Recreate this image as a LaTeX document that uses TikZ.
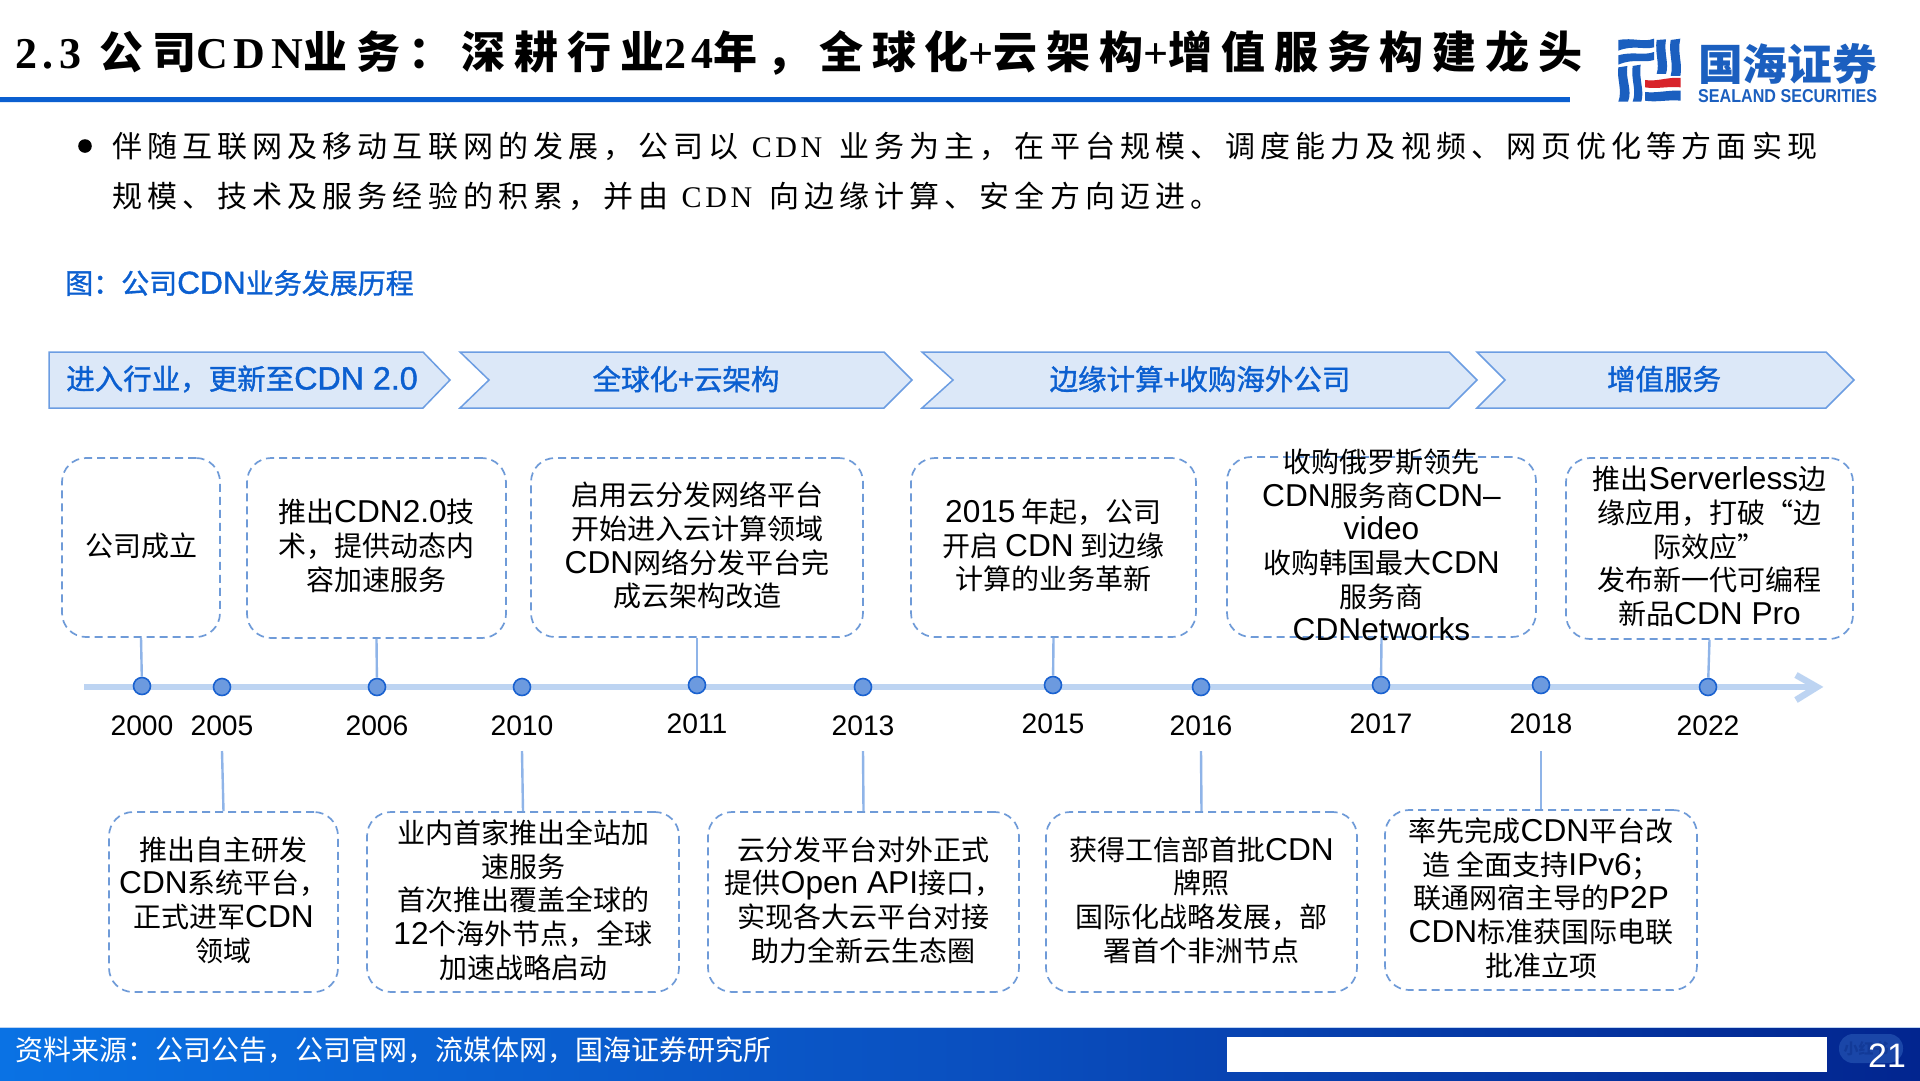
\documentclass[tikz,border=0pt]{standalone}
\usepackage{fontspec}
\usepackage{graphicx}
\setmainfont{Noto Sans CJK SC}
\newfontfamily\latf{Liberation Sans}[Scale=1.13]
\newfontfamily\latb{Liberation Sans}[Scale=1.13,FakeBold=1.2]
\newfontfamily\logol{Liberation Sans}
\newfontfamily\cjb{Noto Sans CJK SC}[FakeBold=1.2]
\newfontfamily\tcj{Noto Sans CJK SC}[LetterSpace=20]
\newfontfamily\tlat{Liberation Serif}[LetterSpace=13]
\newfontfamily\bcj{Noto Sans CJK SC}[LetterSpace=17]
\newfontfamily\blat{Liberation Serif}[LetterSpace=12]
\newcommand{\la}[1]{{\latf #1}}
\newcommand{\lb}[1]{{\latb #1}}
\definecolor{cblue}{HTML}{0B5FD0}
\definecolor{chevf}{HTML}{DCE8F8}
\definecolor{chevd}{HTML}{6C9DE2}
\definecolor{dashc}{HTML}{6F9BD8}
\definecolor{linec}{HTML}{8FB4E8}
\definecolor{axisc}{HTML}{BDD4F2}
\definecolor{dotf}{HTML}{6C9ADF}
\definecolor{dotd}{HTML}{1A62D0}
\definecolor{logob}{HTML}{1B5FBF}
\definecolor{logor}{HTML}{D8232A}
\definecolor{footl}{HTML}{0A72E4}
\definecolor{footm}{HTML}{0A50C0}
\definecolor{footr}{HTML}{02258F}
\definecolor{pillc}{HTML}{1A46A8}
\definecolor{wmc}{HTML}{123A98}
\tikzset{
  chev/.style={fill=chevf,draw=chevd,line width=1.5pt},
  chevlab/.style={font=\fontsize{28.5}{34}\selectfont\cjb,text=cblue,inner sep=0pt},
  dbox/.style={draw=dashc,line width=1.7pt,dash pattern=on 8pt off 5pt,rounded corners=24pt,inner sep=0pt},
  boxtxt/.style={font=\fontsize{28}{33.7}\selectfont,align=center,inner sep=0pt,text=black},
  yr/.style={font=\fontsize{25}{33}\selectfont\latf,inner sep=0pt,text=black},
  dot/.style={circle,fill=dotf,draw=dotd,line width=1.6pt,minimum size=17pt,inner sep=0pt},
  conn/.style={draw=linec,line width=2.4pt},
}
% \tbox{name}{x1}{y1}{x2}{y2}{text}
\newcommand{\tbox}[6]{%
  \pgfmathsetmacro{\bcx}{(#2+#4)/2}\pgfmathsetmacro{\bcy}{(#3+#5)/2}%
  \pgfmathsetmacro{\bwd}{#4-#2}\pgfmathsetmacro{\bht}{#5-#3}%
  \node[dbox,minimum width=\bwd pt,minimum height=\bht pt] (#1) at (\bcx,\bcy) {};
  \node[boxtxt] (#1t) at (\bcx,\bcy-2) {#6};
}
\begin{document}
\begin{tikzpicture}[x=1pt,y=-1pt]
\useasboundingbox (0,0) rectangle (1920,1080);
\fill[white] (0,0) rectangle (1920,1080);
% title
\node[anchor=west,inner sep=0pt,font=\fontsize{44}{50}\selectfont\bfseries] (title) at (15,53)
 {{\tlat 2.3}\hspace{18pt}{\tcj 公司}{\tlat CDN}{\tcj 业务：深耕行业}{\tlat 24}{\tcj 年，全球化}{\tlat +}{\tcj 云架构}{\tlat +}{\tcj 增值服务构建龙头}};
\fill[cblue] (0,97) rectangle (1570,102);
\fill[axisc!50] (0,102) rectangle (1570,103);
% logo
\begin{scope}[shift={(1500,0)},x=0.3333pt,y=-0.3333pt]
\fill[logob] (355,120) .. controls (400,112) and (430,128) .. (462,116) -- (462,142) .. controls (430,150) and (400,134) .. (355,152) -- cycle;
\fill[logob] (355,166) .. controls (400,153) and (430,168) .. (462,156) -- (462,180) .. controls (430,190) and (400,174) .. (355,194) -- cycle;
\fill[logob] (355,202) -- (382,198) .. controls (376,240) and (398,270) .. (384,305) -- (355,305) .. controls (368,270) and (350,240) .. (355,202) -- cycle;
\fill[logob] (398,198) -- (422,194) .. controls (416,240) and (434,270) .. (424,305) -- (398,305) .. controls (411,270) and (392,240) .. (398,198) -- cycle;
\fill[logob] (470,120) -- (498,118) .. controls (491,160) and (508,190) .. (498,222) -- (470,222) .. controls (480,190) and (464,160) .. (470,120) -- cycle;
\fill[logob] (512,120) -- (541,116) .. controls (531,160) and (549,190) .. (541,228) -- (512,228) .. controls (522,190) and (505,160) .. (512,120) -- cycle;
\fill[logor] (435,240) .. controls (470,246) and (505,230) .. (542,234) -- (542,262) .. controls (505,258) and (470,268) .. (435,262) -- cycle;
\fill[logob] (435,276) .. controls (470,280) and (505,270) .. (542,272) -- (542,302) .. controls (505,298) and (470,308) .. (435,302) -- cycle;
\end{scope}
\node[anchor=west,inner sep=0pt,text=logob,font=\fontsize{41}{48}\selectfont\bfseries] (logocn) at (1698,64)
 {\resizebox{179pt}{37pt}{国海证券}};
\node[anchor=west,inner sep=0pt,text=logob] (logoen) at (1698,96)
 {\resizebox{179pt}{13pt}{\bfseries\logol SEALAND SECURITIES}};
% body
\fill[black] (85,146) circle (6.8pt);
\node[anchor=west,inner sep=0pt,font=\fontsize{30}{34}\selectfont] (body1) at (112,146)
 {{\bcj 伴随互联网及移动互联网的发展，公司以}\hspace{13pt}{\blat CDN}\hspace{17pt}{\bcj 业务为主，在平台规模、调度能力及视频、网页优化等方面实现}};
\node[anchor=west,inner sep=0pt,font=\fontsize{30}{34}\selectfont] (body2) at (112,196)
 {{\bcj 规模、技术及服务经验的积累，并由}\hspace{13pt}{\blat CDN}\hspace{17pt}{\bcj 向边缘计算、安全方向迈进。}};
\node[anchor=west,inner sep=0pt,text=cblue,font=\fontsize{28}{34}\selectfont\cjb] (fig) at (65,283)
 {图：公司\lb{CDN}业务发展历程};
% chevrons
\draw[chev] (49,352) -- (423,352) -- (450,380) -- (423,408) -- (49,408) -- cycle;
\draw[chev] (460,352) -- (884,352) -- (912,380) -- (884,408) -- (460,408) -- (489,380) -- cycle;
\draw[chev] (922,352) -- (1449,352) -- (1477,380) -- (1449,408) -- (922,408) -- (953,380) -- cycle;
\draw[chev] (1477,352) -- (1826,352) -- (1854,380) -- (1826,408) -- (1477,408) -- (1505,380) -- cycle;
\node[chevlab] (c1) at (242,379) {进入行业，更新至\lb{CDN 2.0}};
\node[chevlab] (c2) at (686,379) {全球化+云架构};
\node[chevlab] (c3) at (1200,379) {边缘计算+收购海外公司};
\node[chevlab] (c4) at (1664,379) {增值服务};
% axis
\coordinate (axl) at (84,687);
\coordinate (axr) at (1817,687);
\coordinate (ahu) at (1796,675);
\coordinate (ahd) at (1796,700);
\draw[axisc,line width=6.5pt] (axl) -- (axr);
\draw[axisc,line width=6.5pt] (ahu) -- (axr) -- (ahd);
% top boxes
\tbox{t1}{62}{458}{220}{637}{公司成立}
\tbox{t2}{247}{458}{506}{638}{推出\la{CDN2.0}技\\术，提供动态内\\容加速服务}
\tbox{t3}{531}{458}{863}{637}{启用云分发网络平台\\开始进入云计算领域\\\la{CDN}网络分发平台完\\成云架构改造}
\tbox{t4}{911}{458}{1196}{637}{\la{2015} 年起，公司\\开启 \la{CDN} 到边缘\\计算的业务革新}
\tbox{t5}{1227}{457}{1536}{637}{收购俄罗斯领先\\\la{CDN}服务商\la{CDN–}\\\la{video}\\收购韩国最大\la{CDN}\\服务商\\\la{CDNetworks}}
\tbox{t6}{1566}{458}{1853}{639}{推出\la{Serverless}边\\缘应用，打破“边\\际效应”\\发布新一代可编程\\新品\la{CDN Pro}}
% bottom boxes
\tbox{b1}{109}{812}{338}{992}{推出自主研发\\\la{CDN}系统平台，\\正式进军\la{CDN}\\领域}
\tbox{b2}{367}{812}{679}{992}{业内首家推出全站加\\速服务\\首次推出覆盖全球的\\\la{12}个海外节点，全球\\加速战略启动}
\tbox{b3}{708}{812}{1019}{992}{云分发平台对外正式\\提供\la{Open API}接口，\\实现各大云平台对接\\助力全新云生态圈}
\tbox{b4}{1046}{812}{1357}{992}{获得工信部首批\la{CDN}\\牌照\\国际化战略发展，部\\署首个非洲节点}
\tbox{b5}{1385}{810}{1697}{990}{率先完成\la{CDN}平台改\\造 全面支持\la{IPv6}；\\联通网宿主导的\la{P2P}\\\la{CDN}标准获国际电联\\批准立项}
% dots
\node[dot] (d2000) at (142,686) {};
\node[dot] (d2005) at (222,687) {};
\node[dot] (d2006) at (377,687) {};
\node[dot] (d2010) at (522,687) {};
\node[dot] (d2011) at (697,685) {};
\node[dot] (d2013) at (863,687) {};
\node[dot] (d2015) at (1053,685) {};
\node[dot] (d2016) at (1201,687) {};
\node[dot] (d2017) at (1381,685) {};
\node[dot] (d2018) at (1541,685) {};
\node[dot] (d2022) at (1708,687) {};
% years
\node[yr] (y2000) at (142,726) {2000};
\node[yr] (y2005) at (222,726) {2005};
\node[yr] (y2006) at (377,726) {2006};
\node[yr] (y2010) at (522,726) {2010};
\node[yr] (y2011) at (697,724) {2011};
\node[yr] (y2013) at (863,726) {2013};
\node[yr] (y2015) at (1053,724) {2015};
\node[yr] (y2016) at (1201,726) {2016};
\node[yr] (y2017) at (1381,724) {2017};
\node[yr] (y2018) at (1541,724) {2018};
\node[yr] (y2022) at (1708,726) {2022};
\draw[conn] (t1.south) -- (d2000);
\draw[conn] (t2.south) -- (d2006);
\draw[conn] (t3.south) -- (d2011);
\draw[conn] (t4.south) -- (d2015);
\draw[conn] (t5.south) -- (d2017);
\draw[conn] (t6.south) -- (d2022);
% bottom connectors
\coordinate (s2005) at (222,751);
\coordinate (s2010) at (522,751);
\coordinate (s2013) at (863,751);
\coordinate (s2016) at (1201,751);
\coordinate (s2018) at (1541,751);
\draw[conn] (s2005) -- (b1.north);
\draw[conn] (s2010) -- (b2.north);
\draw[conn] (s2013) -- (b3.north);
\draw[conn] (s2016) -- (b4.north);
\draw[conn] (s2018) -- (b5.north);
% footer
\shade[left color=footl,right color=footr,middle color=footm] (0,1027) rectangle (1920,1080);
\fill[axisc] (0,1026.5) rectangle (1920,1028);
\fill[white] (1227,1037) rectangle (1827,1072);
\fill[pillc,rounded corners=14pt] (1839,1034) rectangle (1903,1063);
\node[inner sep=0pt,text=wmc,font=\fontsize{15}{18}\selectfont\bfseries] (wm) at (1866,1049) {小红书};
\node[anchor=west,inner sep=0pt,text=white,font=\fontsize{28}{34}\selectfont] (src) at (15,1050)
 {资料来源：公司公告，公司官网，流媒体网，国海证券研究所};
\node[inner sep=0pt,text=white,font=\fontsize{30}{36}\selectfont\latf] (pg) at (1887,1056) {21};
\end{tikzpicture}
\end{document}
